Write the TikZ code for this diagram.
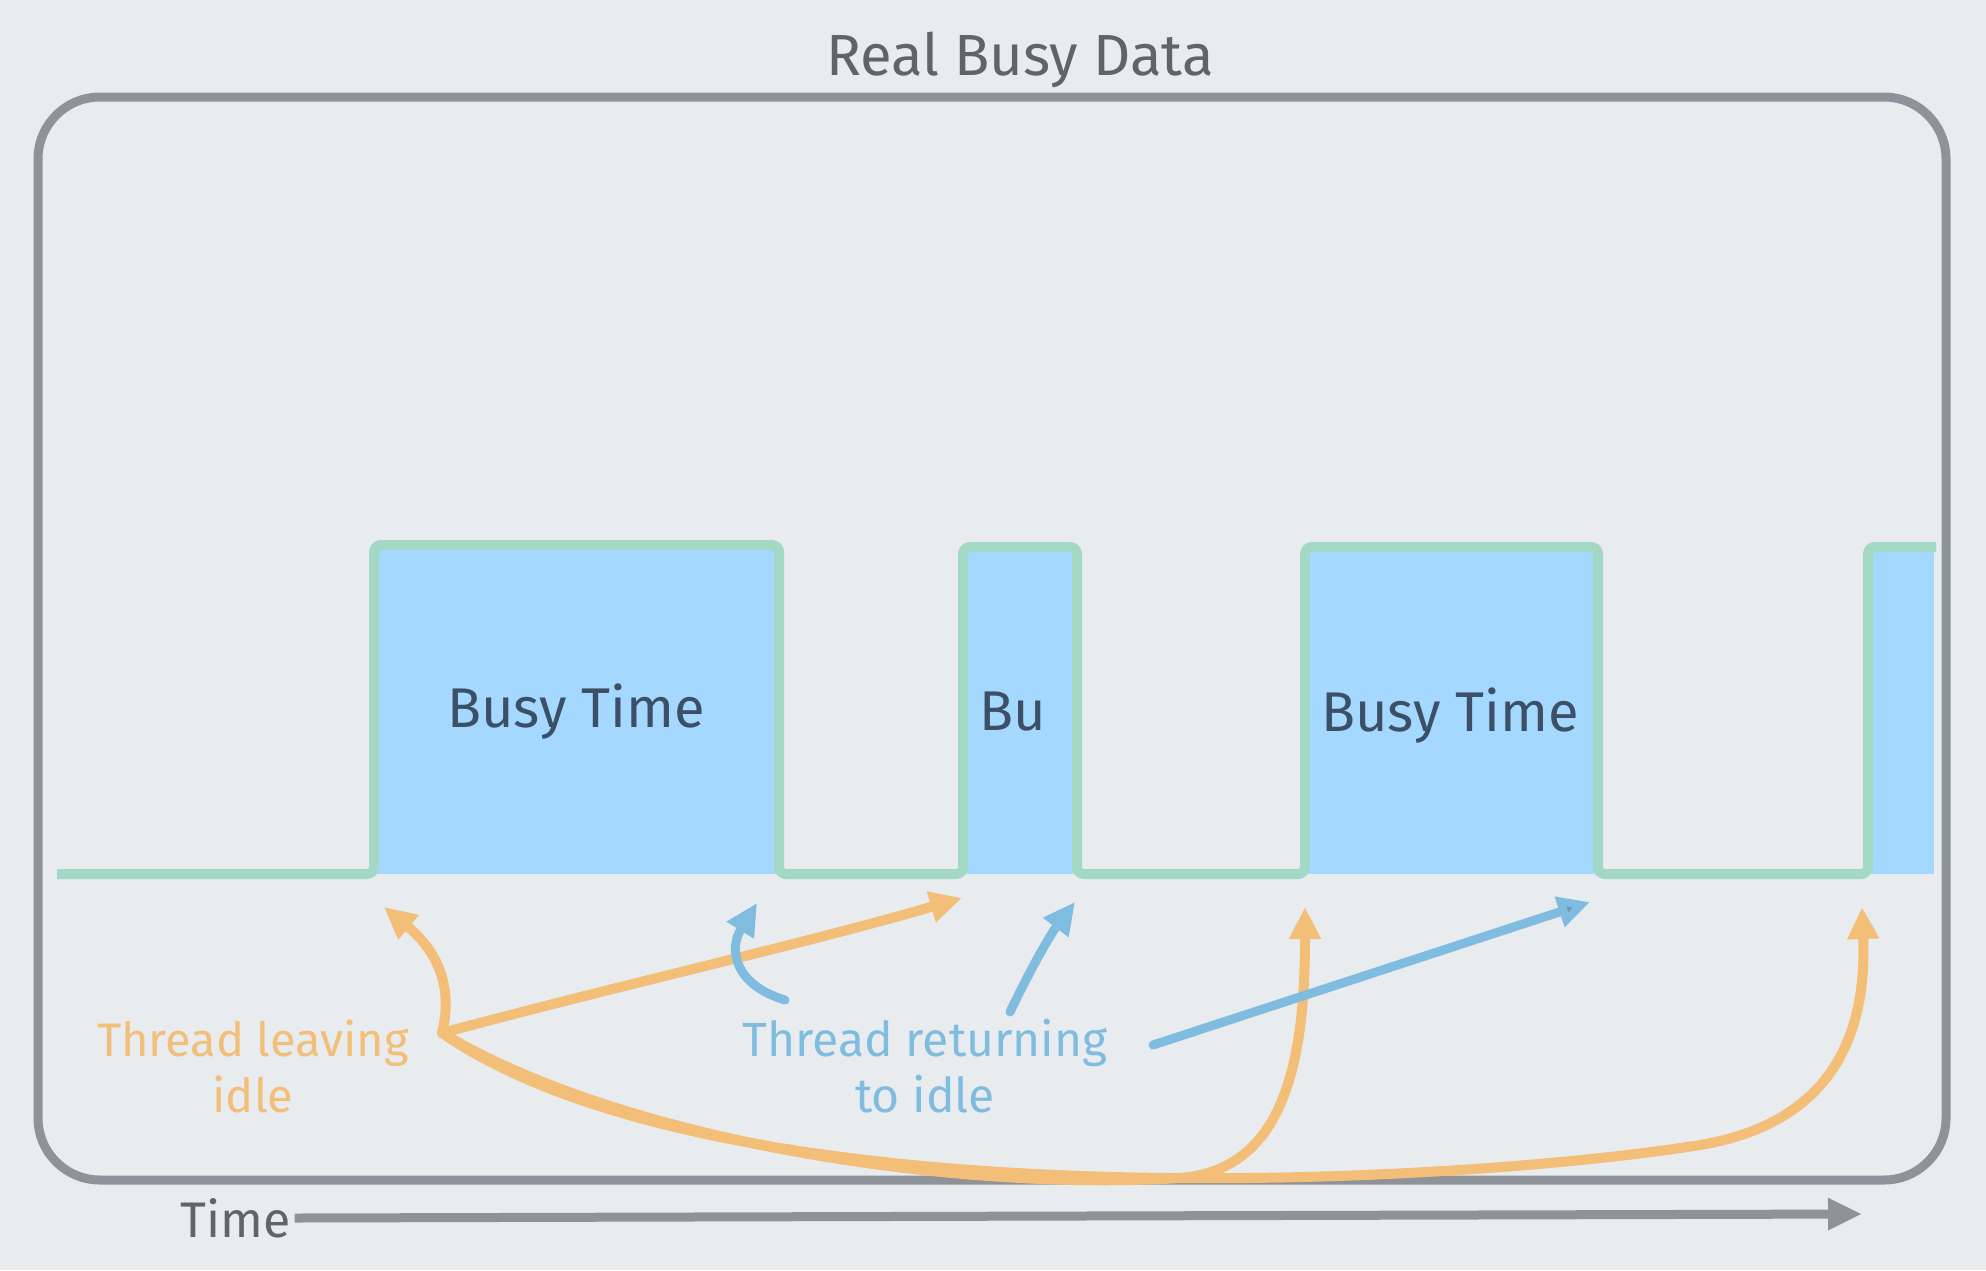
\documentclass[tikz,border=0pt]{standalone}
\usepackage{fontspec}
\setmainfont{Fira Sans}
\usetikzlibrary{arrows.meta}
\definecolor{bgc}{HTML}{E8ECEF}
\definecolor{framec}{HTML}{8E9399}
\definecolor{greenc}{HTML}{A3D9C4}
\definecolor{fillc}{HTML}{A5D8FF}
\definecolor{txtc}{HTML}{3B4F66}
\definecolor{titlec}{HTML}{5F6469}
\definecolor{orangec}{HTML}{F2BE78}
\definecolor{bluec}{HTML}{7FBCE0}
\definecolor{bluedark}{HTML}{6F95B8}
\tikzset{
  frame/.style={draw=framec, line width=9pt, rounded corners=62pt},
  pulse/.style={draw=greenc, line width=10pt, rounded corners=7pt, line join=round},
  busy/.style={fill=fillc},
  busytxt/.style={text=txtc, font=\fontsize{56}{62}\selectfont},
  titletxt/.style={text=titlec, font=\fontsize{58}{64}\selectfont},
  otxt/.style={text=orangec, font=\fontsize{47}{56}\selectfont, align=center},
  btxt/.style={text=bluec, font=\fontsize{48}{56}\selectfont, align=center},
  oarrow/.style={draw=orangec, line width=10pt, line cap=round, -{Triangle[length=32pt,width=30pt]}},
  barrow/.style={draw=bluec, line width=9pt, line cap=round, -{Triangle[length=32pt,width=30pt]}},
  axis/.style={draw=framec, line width=9pt, -{Triangle[length=34pt,width=30pt]}},
  axistxt/.style={text=titlec, font=\fontsize{50}{56}\selectfont}
}
\begin{document}
\begin{tikzpicture}[x=1pt,y=-1pt]
\fill[bgc] (0,0) rectangle (1986,1270);
\useasboundingbox (0,0) rectangle (1986,1270);
% busy fills
\fill[busy] (374,545) rectangle (779,874);
\fill[busy] (963,547) rectangle (1077,874);
\fill[busy] (1305,547) rectangle (1598,874);
\fill[busy] (1868,547) rectangle (1934,874);
% pulse line
\draw[pulse] (57,874) -- (374,874) -- (374,545) -- (779,545) -- (779,874)
  -- (963,874) -- (963,547) -- (1077,547) -- (1077,874)
  -- (1305,874) -- (1305,547) -- (1598,547) -- (1598,874)
  -- (1868,874) -- (1868,547) -- (1936,547);
% outer frame
\draw[frame] (38,97) rectangle (1946,1180);
% texts
\node[titletxt] (title) at (1020,60) {Real Busy Data};
\node[busytxt] (b1) at (576,712) {Busy Time};
\node[busytxt] (b2) at (1013,712) {Bu};
\node[busytxt] (b3) at (1450,716) {Busy Time};
\node[otxt] (leave) at (253,1066) {Thread leaving\\idle};
\node[btxt] (ret) at (925,1066) {Thread returning\\to idle};
\node[axistxt] (time) at (236,1218) {Time};
% arrow end points
\coordinate (j) at (442,1033);
\coordinate (e1) at (384,907);
\coordinate (e2) at (962,898);
\coordinate (e3) at (1305,907);
\coordinate (e4) at (1862,907);
\coordinate (s1) at (785,1000);
\coordinate (f1) at (757,903);
\coordinate (s2) at (1010,1012);
\coordinate (f2) at (1075,902);
\coordinate (s3) at (1153,1045);
\coordinate (f3) at (1590,902);
\coordinate (tend) at (1862,1214);
% orange arrows
\draw[oarrow] (j) .. controls (452,992) and (442,955) .. (e1);
\draw[oarrow] (j) .. controls (620,985) and (800,945) .. (e2);
\draw[oarrow] (j) .. controls (620,1140) and (950,1192) .. (1180,1178) .. controls (1285,1170) and (1305,1060) .. (e3);
\draw[oarrow] (j) .. controls (720,1225) and (1450,1185) .. (1700,1145) .. controls (1850,1120) and (1866,1010) .. (e4);
% blue arrows
\draw[barrow] (s1) .. controls (735,985) and (728,950) .. (f1);
\draw[barrow] (s2) .. controls (1030,970) and (1050,935) .. (f2);
\draw[barrow, -{Triangle[length=32pt,width=30pt,fill=bluedark]}] (s3) -- (f3);
% time axis
\draw[axis] (time.east) -- (tend);
\end{tikzpicture}
\end{document}
